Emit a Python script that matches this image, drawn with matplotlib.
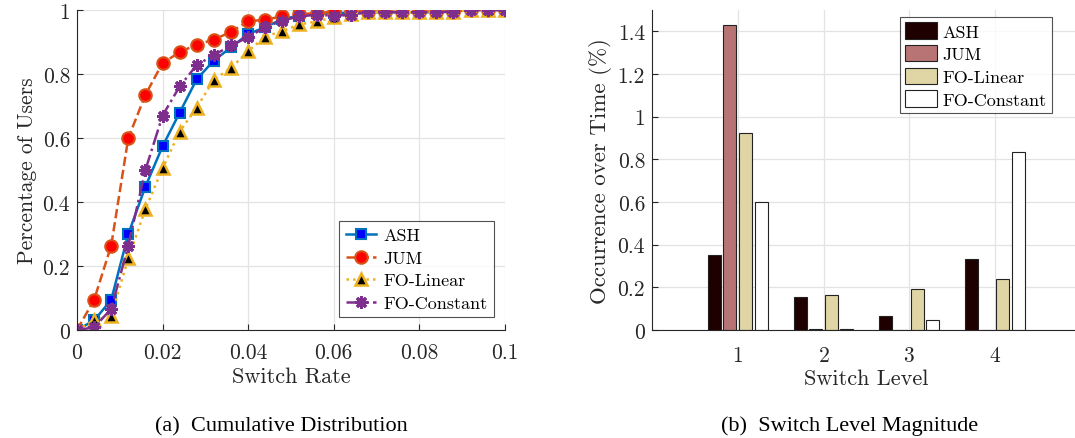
import numpy as np
import matplotlib.pyplot as plt

# switch rate samples (left panel)
rate = np.arange(26) * 0.004
ash = [0, 0.03, 0.094, 0.30, 0.448, 0.574, 0.679, 0.784, 0.842, 0.883, 0.925, 0.946, 0.972,
       0.982, 0.99, 0.99, 0.992, 0.993, 0.993, 0.993, 0.993, 0.993, 0.995, 1.0, 1.0, 1.0]
jum = [0, 0.094, 0.264, 0.60, 0.735, 0.834, 0.868, 0.892, 0.907, 0.932, 0.964, 0.97, 0.98,
       0.987, 0.99, 0.995, 0.997, 0.995, 0.995, 0.995, 0.995, 0.995, 0.995, 1.0, 1.0, 1.0]
fo_lin = [0, 0.03, 0.045, 0.224, 0.378, 0.505, 0.62, 0.695, 0.782, 0.819, 0.871, 0.917, 0.934,
          0.955, 0.964, 0.977, 0.987, 0.993, 0.993, 0.993, 0.993, 0.993, 0.995, 1.0, 1.0, 1.0]
fo_const = [0, 0.008, 0.066, 0.264, 0.50, 0.67, 0.761, 0.828, 0.859, 0.889, 0.915, 0.946, 0.967,
            0.98, 0.985, 0.982, 0.985, 0.993, 0.993, 0.993, 0.993, 0.993, 0.995, 1.0, 1.0, 1.0]

# switch level occurrence (right panel)
levels = [1, 2, 3, 4]
bar_names = ["ASH", "JUM", "FO-Linear", "FO-Constant"]
bar_ash = [0.35, 0.153, 0.064, 0.332]
bar_jum = [1.431, 0.003, 0.002, 0.002]
bar_fo_lin = [0.922, 0.165, 0.19, 0.24]
bar_fo_const = [0.601, 0.006, 0.045, 0.833]

plt.rcParams['font.family'] = 'cmr10'
plt.rcParams['axes.formatter.use_mathtext'] = True
txt = '#262626'

fig = plt.figure(figsize=(10.75, 4.39), dpi=100)
ax1 = fig.add_axes([0.0716, 0.246, 0.398, 0.729])
ax2 = fig.add_axes([0.6065, 0.246, 0.399, 0.729])

for ax in (ax1, ax2):
    ax.grid(True, color='#e3e3e3', linewidth=0.9)
    ax.set_axisbelow(True)
    for s in ('top', 'right'):
        ax.spines[s].set_visible(False)
    for s in ('left', 'bottom'):
        ax.spines[s].set_color(txt)
        ax.spines[s].set_linewidth(0.8)
    ax.tick_params(direction='in', length=4, width=0.8, colors=txt, labelsize=15.5)
    ax.tick_params(axis='x', pad=9)
    ax.tick_params(axis='y', pad=5)

# cumulative distribution
ax1.plot(rate, ash, '-s', color='#0072BD', lw=1.8, ms=7, mfc='#0000ff', mec='#0072BD', mew=1.5, label='ASH')
ax1.plot(rate, jum, '--o', color='#D95319', lw=1.8, ms=9, mfc='#ff0000', mec='#D95319', mew=1.5, label='JUM')
ax1.plot(rate, fo_lin, ':^', color='#EDB120', lw=1.8, ms=9, mfc='black', mec='#EDB120', mew=1.8, label='FO-Linear')
ax1.plot(rate, fo_const, '-.', marker=(8, 2, 0), color='#7E2F8E', lw=1.8, ms=9, mec='#7E2F8E', mew=2.2, label='FO-Constant')
ax1.set_xlim(0, 0.1)
ax1.set_ylim(0, 1)
ax1.set_xticks([0, 0.02, 0.04, 0.06, 0.08, 0.1])
ax1.set_xticklabels(['0', '0.02', '0.04', '0.06', '0.08', '0.1'])
ax1.set_yticks([0, 0.2, 0.4, 0.6, 0.8, 1])
ax1.set_yticklabels(['0', '0.2', '0.4', '0.6', '0.8', '1'])
ax1.set_xlabel('Switch Rate', fontsize=16, color=txt, labelpad=3)
ax1.set_ylabel('Percentage of Users', fontsize=15.5, color=txt, labelpad=4)
leg1 = ax1.legend(loc='lower right', bbox_to_anchor=(0.975, 0.04), fontsize=13, frameon=True, fancybox=False,
                  edgecolor=txt, handlelength=1.7, handletextpad=0.4, borderpad=0.35, labelspacing=0.38,
                  borderaxespad=0)
leg1.get_frame().set_linewidth(0.8)

# grouped bars
x = np.array(levels)
w = 0.182
cols = ['#1f0000', '#b87474', '#e0d5a5', '#ffffff']
for i, (vals, c) in enumerate(zip([bar_ash, bar_jum, bar_fo_lin, bar_fo_const], cols)):
    ax2.bar(x + (i - 1.5) * w, vals, width=w * 0.83, color=c, edgecolor='#222222', linewidth=0.8,
            label=bar_names[i])
ax2.set_xlim(0, 5)
ax2.set_ylim(0, 1.5)
ax2.set_xticks(levels)
ax2.set_yticks([0, 0.2, 0.4, 0.6, 0.8, 1, 1.2, 1.4])
ax2.set_yticklabels(['0', '0.2', '0.4', '0.6', '0.8', '1', '1.2', '1.4'])
ax2.tick_params(axis='x', length=0, pad=11)
ax2.set_xlabel('Switch Level', fontsize=16, color=txt, labelpad=3)
ax2.set_ylabel('Occurrence over Time (%)', fontsize=16.5, color=txt, labelpad=4)
leg2 = ax2.legend(loc='upper left', bbox_to_anchor=(0.578, 0.978), fontsize=13, frameon=True, fancybox=False,
                  edgecolor=txt, handlelength=1.75, handleheight=1.0, handletextpad=0.3, borderpad=0.3,
                  labelspacing=0.3, borderaxespad=0)
leg2.get_frame().set_linewidth(0.8)

# sub-captions
fig.text(0.262, 0.018, '(a)  Cumulative Distribution', fontsize=16, family='Liberation Serif', ha='center')
fig.text(0.79, 0.018, '(b)  Switch Level Magnitude', fontsize=16, family='Liberation Serif', ha='center')

plt.savefig('out.png', dpi=100)
